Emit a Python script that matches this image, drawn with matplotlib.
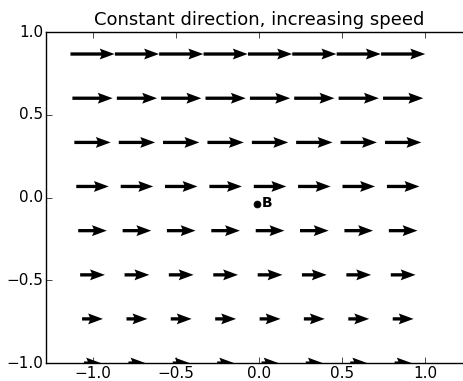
import numpy as np
import matplotlib
matplotlib.use('Agg')
import matplotlib.pyplot as plt

# grid positions (same along x and y)
x_pos = [-1.0, -0.733, -0.467, -0.2, 0.067, 0.333, 0.6, 0.867]
y_pos = [-1.0, -0.733, -0.467, -0.2, 0.067, 0.333, 0.6, 0.867]
# horizontal speed for each row, bottom to top
row_speed = [1.1, 1.35, 1.6, 1.85, 2.1, 2.35, 2.6, 2.85]

point_b = (-0.01, -0.04)

plt.style.use('classic')

X, Y = np.meshgrid(x_pos, y_pos)
U = np.repeat(np.array(row_speed)[:, None], len(x_pos), axis=1)
V = np.zeros_like(U)

fig = plt.figure(figsize=(4.64, 3.81), dpi=100)
ax = fig.add_axes([0.099, 0.047, 0.918, 0.869])

ax.quiver(X, Y, U, V, pivot='middle', units='dots', width=3.3,
          headwidth=3.3, headlength=4.5, headaxislength=4.0,
          scale_units='x', scale=10.75, color='k')

ax.plot(point_b[0], point_b[1], 'ko', markersize=5)
ax.text(point_b[0] + 0.03, point_b[1] + 0.01, 'B', fontweight='bold',
        fontsize=10, va='center')

ax.set_xlim(-1.28, 1.28)
ax.set_ylim(-1, 1)
ax.set_xticks([-1.0, -0.5, 0.0, 0.5, 1.0])
ax.set_yticks([-1.0, -0.5, 0.0, 0.5, 1.0])
ax.tick_params(labelsize=11, pad=2)
ax.set_title('Constant direction, increasing speed', fontsize=13)

fig.savefig('out.png', dpi=100)
